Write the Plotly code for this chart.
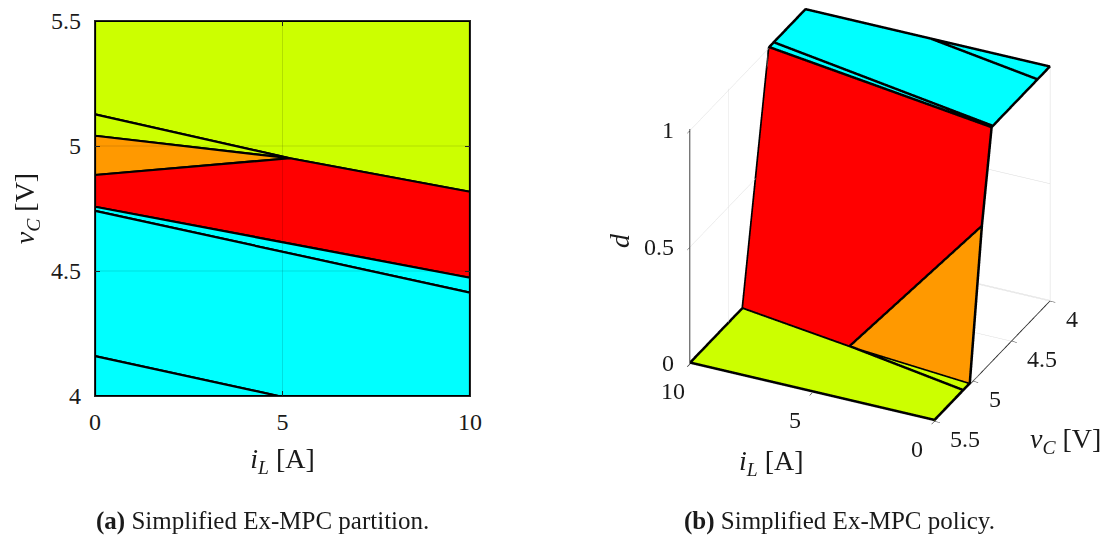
import plotly.graph_objects as go

# ---------------- data ----------------
IL_RANGE = [0, 10]
VC_RANGE = [4.0, 5.5]
D_RANGE = [0, 1]

IL_TICKS = [0, 5, 10]
IL_TICKTEXT = ["0", "5", "10"]
VC_TICKS = [4, 4.5, 5, 5.5]
VC_TICKTEXT = ["4", "4.5", "5", "5.5"]
D_TICKS = [0, 0.5, 1]
D_TICKTEXT = ["0", "0.5", "1"]

# region polygons: i_L, v_C vertices and the policy value d at each vertex
yellow_top_il = [0, 10, 10, 5.2, 0]
yellow_top_vc = [5.5, 5.5, 4.817, 4.951, 5.127]
yellow_top_d = [0, 0, 0, 0, 0]

yellow_wedge_il = [0, 5.2, 0]
yellow_wedge_vc = [5.127, 4.951, 5.041]
yellow_wedge_d = [0, 0, 0]

orange_il = [0, 5.2, 0]
orange_vc = [5.041, 4.951, 4.884]
orange_d = [0, 0, 0.62]

red_il = [0, 5.2, 10, 10, 0]
red_vc = [4.884, 4.951, 4.817, 4.473, 4.757]
red_d = [0.62, 0, 0, 1, 1]

cyan_strip_il = [0, 10, 10, 0]
cyan_strip_vc = [4.757, 4.473, 4.413, 4.741]
cyan_strip_d = [1, 1, 1, 1]

cyan_mid_il = [0, 10, 10, 4.89, 0]
cyan_mid_vc = [4.741, 4.413, 4.0, 4.0, 4.16]
cyan_mid_d = [1, 1, 1, 1, 1]

cyan_corner_il = [0, 4.89, 0]
cyan_corner_vc = [4.16, 4.0, 4.0]
cyan_corner_d = [1, 1, 1]

YELLOW = "#CCFF00"
ORANGE = "#FF9900"
RED = "#FF0000"
CYAN = "#00FFFF"

regions = [
    (yellow_top_il, yellow_top_vc, yellow_top_d, YELLOW),
    (yellow_wedge_il, yellow_wedge_vc, yellow_wedge_d, YELLOW),
    (orange_il, orange_vc, orange_d, ORANGE),
    (red_il, red_vc, red_d, RED),
    (cyan_strip_il, cyan_strip_vc, cyan_strip_d, CYAN),
    (cyan_mid_il, cyan_mid_vc, cyan_mid_d, CYAN),
    (cyan_corner_il, cyan_corner_vc, cyan_corner_d, CYAN),
]

FONT = "Liberation Serif"
AXCOL = "#262626"
TXTCOL = "#1a1a1a"

# camera view direction (azimuth ~115 deg, elevation ~30 deg), orthographic
VIEW = (-0.3727, 0.7852, 0.4945)
EYE_DIST = 1.6
BOX = 1.258  # orthographic zoom is set through the aspect ratio
LIFT = 0.004  # edge lines lifted slightly so they stay above the facets

fig = go.Figure()

# ---------------- (a) partition ----------------
for il, vc, d, col in regions:
    fig.add_trace(go.Scatter(
        x=il + [il[0]], y=vc + [vc[0]], mode="lines", fill="toself",
        fillcolor=col, line=dict(color="black", width=2.2),
        hoverinfo="skip", showlegend=False, xaxis="x", yaxis="y"))

# grid lines drawn above the patches (as MATLAB does)
shapes = []
for t in IL_TICKS[1:-1]:
    shapes.append(dict(type="line", xref="x", yref="y", x0=t, x1=t,
                       y0=VC_RANGE[0], y1=VC_RANGE[1], layer="above",
                       line=dict(color="rgba(0,0,0,0.13)", width=1)))
for t in VC_TICKS[1:-1]:
    shapes.append(dict(type="line", xref="x", yref="y", y0=t, y1=t,
                       x0=IL_RANGE[0], x1=IL_RANGE[1], layer="above",
                       line=dict(color="rgba(0,0,0,0.13)", width=1)))

# ---------------- (b) policy (3-D) ----------------
for il, vc, d, col in regions:
    n = len(il)
    fig.add_trace(go.Mesh3d(
        x=il, y=vc, z=d,
        i=[0] * (n - 2), j=list(range(1, n - 1)), k=list(range(2, n)),
        color=col, flatshading=True,
        lighting=dict(ambient=1, diffuse=0, specular=0, roughness=1, fresnel=0),
        hoverinfo="skip", showscale=False, scene="scene"))

for il, vc, d, col in regions:
    fig.add_trace(go.Scatter3d(
        x=il + [il[0]], y=vc + [vc[0]],
        z=[v + LIFT for v in d + [d[0]]], mode="lines",
        line=dict(color="black", width=5), hoverinfo="skip",
        showlegend=False, scene="scene"))

tickfont = dict(family=FONT, size=24, color=TXTCOL)
titlefont = dict(family=FONT, size=28, color=TXTCOL)

ax3 = dict(showbackground=False, gridcolor="#dadada", gridwidth=1,
           showline=True, linecolor=AXCOL, linewidth=2,
           ticks="outside", ticklen=6, tickcolor=AXCOL,
           showticklabels=False, showspikes=False, zeroline=False,
           title=dict(text=""))

# 3-D tick labels and titles as scene annotations (upright text)
scene_ann = []
for t, s in zip(IL_TICKS, IL_TICKTEXT):
    scene_ann.append(dict(x=t, y=VC_RANGE[1], z=D_RANGE[0], text=s, showarrow=False,
                          xshift=-17, yshift=-28, font=tickfont))
for t, s in zip(VC_TICKS, VC_TICKTEXT):
    scene_ann.append(dict(x=IL_RANGE[0], y=t, z=D_RANGE[0], text=s, showarrow=False,
                          xanchor="left", xshift=14, yshift=-18, font=tickfont))
for t, s in zip(D_TICKS, D_TICKTEXT):
    scene_ann.append(dict(x=IL_RANGE[1], y=VC_RANGE[1], z=t, text=s, showarrow=False,
                          xanchor="right", xshift=-14, yshift=0, font=tickfont))
scene_ann.append(dict(x=5, y=VC_RANGE[1], z=D_RANGE[0],
                      text="<i>i</i><sub><i>L</i></sub> [A]", showarrow=False,
                      xshift=-41, yshift=-70, font=titlefont))
scene_ann.append(dict(x=IL_RANGE[0], y=4.75, z=D_RANGE[0],
                      text="<i>v</i><sub><i>C</i></sub> [V]", showarrow=False,
                      xshift=73, yshift=-80, font=titlefont))
scene_ann.append(dict(x=IL_RANGE[1], y=VC_RANGE[1], z=0.5,
                      text="<i>d</i>", showarrow=False, textangle=-90,
                      xshift=-70, yshift=6, font=titlefont))

fig.update_layout(
    template="none",
    width=1110, height=538,
    margin=dict(l=0, r=0, t=0, b=0),
    paper_bgcolor="white", plot_bgcolor="white",
    font=dict(family=FONT, color=TXTCOL),
    xaxis=dict(domain=[95 / 1110, 470 / 1110], range=IL_RANGE,
               tickvals=IL_TICKS, ticktext=IL_TICKTEXT, ticks="inside", ticklen=5,
               tickcolor=AXCOL, tickfont=tickfont, ticklabelstandoff=4,
               showgrid=False, zeroline=False, automargin=False,
               showline=True, linecolor=AXCOL, linewidth=1.2, mirror="ticks",
               title=dict(text="<i>i</i><sub><i>L</i></sub> [A]",
                          font=titlefont, standoff=14)),
    yaxis=dict(domain=[1 - 396 / 538, 1 - 21 / 538], range=VC_RANGE,
               tickvals=VC_TICKS, ticktext=VC_TICKTEXT, ticks="inside",
               ticklen=5, tickcolor=AXCOL, tickfont=tickfont, ticklabelstandoff=8,
               showgrid=False, zeroline=False, automargin=False,
               showline=True, linecolor=AXCOL, linewidth=1.2, mirror="ticks",
               title=dict(text="<i>v</i><sub><i>C</i></sub> [V]",
                          font=titlefont, standoff=8)),
    shapes=shapes,
    scene=dict(
        domain=dict(x=[630 / 1110, 1.0], y=[1 - 430 / 538, 1.0]),
        aspectmode="manual",
        aspectratio=dict(x=BOX, y=BOX, z=BOX),
        bgcolor="rgba(0,0,0,0)",
        # the i_L edge is already traced by the patch outline
        xaxis=dict(ax3, range=IL_RANGE, tickvals=IL_TICKS, showline=False),
        yaxis=dict(ax3, range=[VC_RANGE[0] - 0.004, VC_RANGE[1] + 0.004], tickvals=VC_TICKS),
        zaxis=dict(ax3, range=[D_RANGE[0] - 0.002, D_RANGE[1] + 0.006], tickvals=D_TICKS),
        camera=dict(projection=dict(type="orthographic"),
                    up=dict(x=0, y=0, z=1),
                    center=dict(x=0, y=0, z=0),
                    eye=dict(x=VIEW[0] * EYE_DIST, y=VIEW[1] * EYE_DIST,
                             z=VIEW[2] * EYE_DIST)),
        annotations=scene_ann,
    ),
    annotations=[
        dict(text="<b>(a)</b> Simplified Ex-MPC partition.", xref="paper", yref="paper",
             x=262 / 1110, y=1 - 521 / 538, showarrow=False, xanchor="center",
             yanchor="middle", font=dict(family=FONT, size=25, color=TXTCOL)),
        dict(text="<b>(b)</b> Simplified Ex-MPC policy.", xref="paper", yref="paper",
             x=839 / 1110, y=1 - 521 / 538, showarrow=False, xanchor="center",
             yanchor="middle", font=dict(family=FONT, size=25, color=TXTCOL)),
    ],
)

fig.write_html("out.html")
